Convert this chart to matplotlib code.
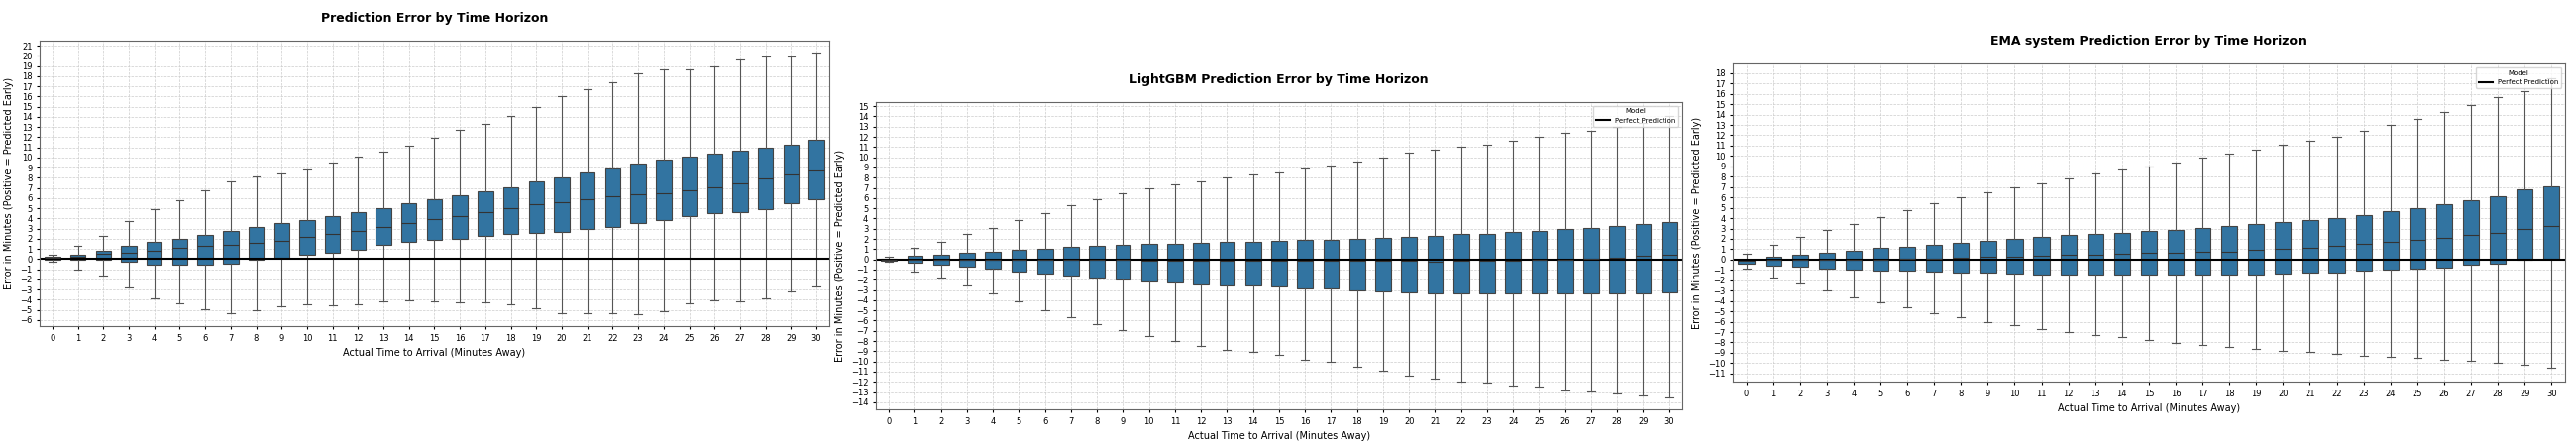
import matplotlib
matplotlib.use("Agg")
import matplotlib.pyplot as plt
import numpy as np

minutes = list(range(31))

# Panel 1: overall prediction error (whisker low, q1, median, q3, whisker high)
p1_lo = [-0.3, -1.0, -1.6, -2.8, -3.9, -4.4, -4.9, -5.3, -5.0, -4.7, -4.5, -4.6, -4.5, -4.2, -4.05, -4.2,
         -4.3, -4.3, -4.5, -4.8, -5.3, -5.3, -5.3, -5.4, -5.1, -4.4, -4.1, -4.2, -3.9, -3.2, -2.7]
p1_q1 = [-0.05, -0.1, -0.1, -0.3, -0.6, -0.6, -0.55, -0.5, -0.1, 0.1, 0.45, 0.65, 0.9, 1.35, 1.65, 1.85,
         2.0, 2.3, 2.45, 2.6, 2.7, 2.95, 3.2, 3.5, 3.85, 4.2, 4.5, 4.65, 4.95, 5.45, 5.9]
p1_med = [0.1, 0.2, 0.5, 0.6, 0.8, 1.1, 1.25, 1.4, 1.6, 1.8, 2.2, 2.5, 2.8, 3.2, 3.5, 3.9,
          4.25, 4.6, 5.0, 5.35, 5.55, 5.85, 6.2, 6.35, 6.5, 6.75, 7.05, 7.45, 7.95, 8.35, 8.75]
p1_q3 = [0.2, 0.4, 0.85, 1.3, 1.65, 2.0, 2.4, 2.8, 3.2, 3.5, 3.85, 4.25, 4.6, 5.05, 5.45, 5.85,
         6.3, 6.7, 7.1, 7.6, 8.05, 8.5, 8.9, 9.4, 9.8, 10.05, 10.35, 10.7, 10.95, 11.25, 11.7]
p1_hi = [0.4, 1.3, 2.3, 3.7, 4.9, 5.8, 6.8, 7.6, 8.1, 8.4, 8.8, 9.5, 10.1, 10.6, 11.2, 11.9,
         12.7, 13.3, 14.1, 15.0, 16.0, 16.7, 17.4, 18.3, 18.7, 18.7, 19.0, 19.6, 19.9, 19.9, 20.3]

# Panel 2: LightGBM
p2_lo = [-0.25, -1.15, -1.8, -2.55, -3.3, -4.1, -4.95, -5.65, -6.35, -6.95, -7.55, -8.0, -8.45, -8.85, -9.1, -9.35,
         -9.8, -10.0, -10.5, -10.95, -11.4, -11.7, -12.0, -12.1, -12.4, -12.5, -12.8, -12.9, -13.15, -13.35, -13.5]
p2_q1 = [-0.1, -0.3, -0.5, -0.7, -0.9, -1.15, -1.4, -1.6, -1.8, -2.0, -2.15, -2.3, -2.45, -2.55, -2.6, -2.7,
         -2.8, -2.85, -3.0, -3.1, -3.25, -3.3, -3.35, -3.35, -3.35, -3.35, -3.35, -3.3, -3.3, -3.3, -3.2]
p2_med = [0.0, 0.0, 0.0, 0.0, 0.0, 0.0, 0.0, 0.0, 0.0, -0.05, -0.1, -0.15, -0.15, -0.15, -0.15, -0.15,
          -0.15, -0.15, -0.15, -0.15, -0.15, -0.2, -0.15, -0.15, -0.1, -0.05, 0.0, 0.1, 0.2, 0.35, 0.5]
p2_q3 = [0.1, 0.35, 0.45, 0.65, 0.75, 0.9, 1.05, 1.2, 1.3, 1.4, 1.5, 1.55, 1.65, 1.7, 1.75, 1.8,
         1.9, 1.95, 2.05, 2.15, 2.25, 2.3, 2.45, 2.5, 2.65, 2.8, 2.95, 3.05, 3.3, 3.45, 3.7]
p2_hi = [0.3, 1.1, 1.75, 2.5, 3.1, 3.85, 4.55, 5.3, 5.9, 6.45, 6.95, 7.3, 7.65, 8.0, 8.3, 8.55,
         8.9, 9.15, 9.6, 10.0, 10.45, 10.75, 11.05, 11.25, 11.65, 12.0, 12.4, 12.6, 13.0, 13.4, 14.0]

# Panel 3: EMA system
p3_lo = [-0.85, -1.7, -2.3, -2.95, -3.6, -4.15, -4.6, -5.15, -5.6, -6.0, -6.3, -6.7, -7.0, -7.3, -7.5, -7.75,
         -8.05, -8.25, -8.4, -8.65, -8.8, -8.9, -9.1, -9.25, -9.35, -9.5, -9.7, -9.8, -9.95, -10.2, -10.4]
p3_q1 = [-0.35, -0.55, -0.7, -0.85, -0.95, -1.05, -1.1, -1.2, -1.3, -1.3, -1.35, -1.4, -1.4, -1.45, -1.45, -1.45,
         -1.45, -1.45, -1.45, -1.4, -1.35, -1.3, -1.25, -1.1, -1.0, -0.85, -0.75, -0.5, -0.35, -0.05, 0.05]
p3_med = [-0.15, 0.0, 0.0, 0.0, 0.0, 0.0, 0.05, 0.1, 0.15, 0.25, 0.3, 0.35, 0.45, 0.5, 0.55, 0.65,
          0.7, 0.75, 0.8, 0.95, 1.05, 1.15, 1.3, 1.5, 1.7, 1.9, 2.1, 2.35, 2.6, 2.95, 3.2]
p3_q3 = [-0.05, 0.3, 0.5, 0.65, 0.85, 1.1, 1.25, 1.45, 1.65, 1.85, 2.0, 2.15, 2.35, 2.45, 2.6, 2.75,
         2.9, 3.05, 3.2, 3.4, 3.6, 3.8, 4.05, 4.3, 4.65, 4.95, 5.3, 5.7, 6.15, 6.75, 7.1]
p3_hi = [0.55, 1.45, 2.15, 2.85, 3.45, 4.15, 4.75, 5.4, 6.0, 6.5, 6.95, 7.4, 7.85, 8.3, 8.65, 9.0,
         9.4, 9.8, 10.2, 10.6, 11.05, 11.45, 11.85, 12.4, 13.0, 13.55, 14.25, 14.95, 15.7, 16.3, 17.5]

BOX_COLOR = "#3274a1"


def draw_panel(ax, title, lo, q1, med, q3, hi, ylim, legend):
    stats = []
    for i in range(len(minutes)):
        stats.append({"whislo": lo[i], "q1": q1[i], "med": med[i], "q3": q3[i], "whishi": hi[i], "fliers": []})
    ax.bxp(stats, positions=minutes, widths=0.6, patch_artist=True, showfliers=False,
           boxprops=dict(facecolor=BOX_COLOR, edgecolor="#444444", linewidth=0.8),
           medianprops=dict(color="#333333", linewidth=0.8),
           whiskerprops=dict(color="#555555", linewidth=0.8),
           capprops=dict(color="#555555", linewidth=0.8))
    ax.axhline(0, color="black", linewidth=1.5, label="Perfect Prediction")
    ax.set_xlim(-0.5, 30.5)
    ax.set_ylim(*ylim)
    ax.set_xticks(minutes)
    ax.set_xticklabels([str(m) for m in minutes])
    ax.set_yticks(np.arange(int(np.ceil(ylim[0])), int(ylim[1]) + 1))
    ax.tick_params(labelsize=6, length=2)
    ax.grid(True, linestyle="--", color="#cccccc", linewidth=0.5)
    ax.set_axisbelow(True)
    ax.set_title(title, fontsize=9, fontweight="bold", pad=14)
    ax.set_xlabel("Actual Time to Arrival (Minutes Away)", fontsize=7)
    ax.set_ylabel("Error in Minutes (Positive = Predicted Early)", fontsize=7)
    for s in ax.spines.values():
        s.set_color("#666666")
    if legend:
        ax.legend(title="Model", loc="upper right", fontsize=5, title_fontsize=5)


fig = plt.figure(figsize=(26, 4.5), dpi=100)
ax1 = fig.add_axes([0.0154, 0.269, 0.3065, 0.64])
ax2 = fig.add_axes([0.340, 0.082, 0.313, 0.689])
ax3 = fig.add_axes([0.6727, 0.144, 0.323, 0.713])

draw_panel(ax1, "Prediction Error by Time Horizon", p1_lo, p1_q1, p1_med, p1_q3, p1_hi, (-6.6, 21.5), False)
draw_panel(ax2, "LightGBM Prediction Error by Time Horizon", p2_lo, p2_q1, p2_med, p2_q3, p2_hi, (-14.7, 15.4), True)
draw_panel(ax3, "EMA system Prediction Error by Time Horizon", p3_lo, p3_q1, p3_med, p3_q3, p3_hi, (-11.8, 18.9), True)

fig.savefig("out.png")
